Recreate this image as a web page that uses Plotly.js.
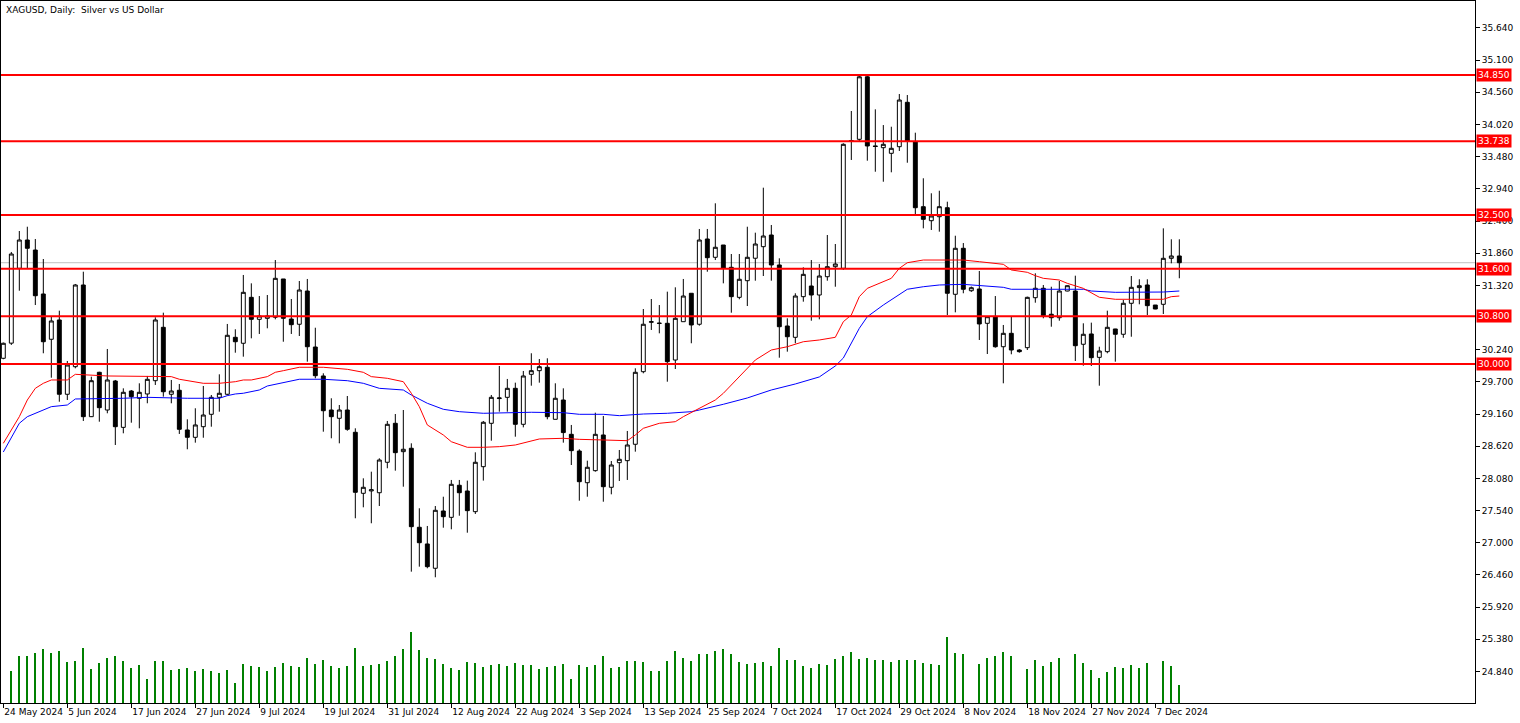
<!DOCTYPE html>
<html><head><meta charset="utf-8">
<script src="https://cdn.plot.ly/plotly-3.0.1.min.js"></script>
<style>html,body{margin:0;padding:0;background:#fff;}#chart{width:1520px;height:723px;}</style>
</head><body><div id="chart"></div>
<script>
const openP = [30.096,30.35,31.606,32.081,31.913,31.175,30.415,30.739,29.492,29.955,31.326,29.116,29.861,29.228,29.715,28.937,29.547,29.425,29.497,29.72,30.616,29.492,29.559,28.893,28.77,28.948,29.156,29.441,29.492,30.448,30.348,31.119,30.75,30.767,30.784,31.427,30.755,30.667,31.225,30.285,29.799,29.228,29.089,29.228,28.854,27.83,27.87,27.84,28.351,29.005,28.529,28.586,27.26,26.98,26.572,27.533,27.427,27.965,27.869,27.522,28.277,29.005,29.42,29.441,29.592,28.988,29.827,29.888,29.945,29.072,29.396,28.82,28.54,28.008,28.21,28.809,27.931,28.344,28.378,28.653,29.871,30.70,30.68,30.683,30.067,30.71,31.187,30.667,32.098,31.791,31.997,31.623,31.119,31.398,31.775,31.969,32.165,31.662,30.638,30.448,31.13,31.309,31.158,31.465,31.633,31.606,33.74,33.771,34.82,33.66,33.63,33.536,33.647,34.392,33.73,32.64,32.405,32.472,32.623,31.17,31.942,31.23,31.259,30.683,30.794,30.29,30.515,30.235,30.274,31.113,31.271,30.835,30.777,31.225,31.225,30.331,30.504,30.112,30.207,30.588,30.499,31.019,31.282,31.326,30.99,31.002,31.774,31.813];
const highP = [30.36,31.88,32.232,32.304,32.098,31.762,30.794,30.895,30.051,31.343,31.549,29.787,29.87,30.252,29.732,29.592,29.564,29.676,29.799,30.784,30.861,29.732,29.665,29.072,29.257,29.631,29.48,29.827,30.672,30.583,31.494,31.354,31.141,31.158,31.745,31.427,31.091,31.393,31.427,30.609,29.844,29.425,29.312,29.463,28.921,28.082,28.193,28.418,29.044,29.161,29.228,28.669,27.579,27.282,27.617,27.773,28.054,28.054,28.043,28.518,29.044,29.48,29.967,29.749,29.687,29.883,30.18,30.084,30.096,29.676,29.592,28.977,28.569,28.378,29.183,29.128,28.372,28.557,28.876,29.928,30.923,31.091,30.99,31.214,31.287,31.427,31.187,32.266,32.266,32.697,31.997,31.846,31.846,32.304,32.204,32.959,32.333,31.774,30.767,31.187,31.623,31.745,31.678,32.165,32.014,33.704,34.246,34.85,34.86,34.274,34.01,33.982,34.531,34.514,33.882,33.117,32.865,32.908,32.724,32.153,32.03,31.30,31.561,30.80,31.141,30.655,30.794,30.25,31.13,31.522,31.326,31.297,31.393,31.32,31.482,30.683,30.694,30.29,30.895,30.59,31.074,31.477,31.422,31.422,30.99,32.277,32.093,32.093];
const lowP = [30.08,30.32,31.23,31.606,30.99,30.18,29.77,29.367,29.396,29.928,29.044,29.11,29.032,29.173,28.641,28.837,29.015,28.921,29.341,29.648,29.452,29.341,28.826,28.569,28.68,28.763,28.948,29.2,29.475,30.19,30.123,30.431,30.504,30.599,30.75,30.374,30.504,30.47,30.039,29.76,28.864,28.753,28.669,28.88,27.411,27.595,27.327,27.617,28.25,28.21,27.941,26.515,26.599,26.572,26.421,27.253,27.226,27.454,27.169,27.483,28.043,28.713,29.2,29.2,28.78,28.937,29.636,29.687,29.072,29.072,28.68,28.305,27.706,27.773,28.193,27.689,27.813,28.037,28.054,28.529,29.844,30.571,30.515,29.703,29.916,30.71,30.348,30.643,31.549,31.745,31.354,30.861,31.086,30.973,31.398,31.477,31.398,30.106,30.207,30.348,31.046,30.727,30.75,31.398,31.297,31.58,33.424,33.74,33.412,33.227,33.059,33.217,33.575,33.378,32.512,32.277,32.249,32.221,30.822,30.867,31.187,31.21,30.403,30.168,30.274,29.676,30.163,30.19,30.235,31.029,30.767,30.626,30.727,31.22,30.051,29.972,29.967,29.636,30.18,30.039,30.44,30.458,31.002,30.822,30.92,30.839,31.69,31.439];
const closeP = [30.348,31.846,32.081,31.942,31.146,30.374,30.722,29.492,29.983,31.326,29.116,29.72,29.267,29.732,28.948,29.525,29.452,29.525,29.743,30.739,29.535,29.547,28.904,28.77,28.977,29.144,29.441,29.509,30.482,30.374,31.203,30.75,30.806,30.806,31.438,30.767,30.66,31.242,30.29,29.804,29.216,29.116,29.228,28.904,27.847,27.931,27.89,28.389,28.988,28.512,28.569,27.27,27.001,26.599,27.545,27.438,27.981,27.84,27.539,28.351,29.022,29.441,29.43,29.592,28.988,29.799,29.888,29.955,29.116,29.425,28.849,28.546,28.025,28.267,28.82,27.941,28.305,28.401,28.641,29.861,30.667,30.71,30.685,30.039,30.767,31.141,30.655,32.081,31.784,31.959,31.606,31.13,31.422,31.791,32.014,32.148,31.662,30.626,30.458,31.141,31.505,31.158,31.477,31.633,31.678,33.687,33.75,34.82,33.659,33.65,33.687,33.62,34.43,33.742,32.623,32.428,32.484,32.64,31.187,31.942,31.254,31.28,30.672,30.794,30.29,30.515,30.235,30.207,31.119,31.271,30.811,30.777,31.225,31.314,30.307,30.499,30.106,30.218,30.616,30.499,31.019,31.287,31.314,30.979,30.923,31.774,31.813,31.70];
const volume = [null,32.5,46.6,46.6,49.6,53.6,49.6,51.6,41.5,42.5,54.6,34.5,40.5,45.5,46.6,42.5,35.5,38.5,24.4,42.5,42.5,33.5,34.5,35.5,32.5,34.5,32.5,30.5,33.5,20.4,39.5,37.5,36.5,32.5,36.5,40.5,37.5,36.5,45.5,39.5,43.5,37.5,35.5,37.5,54.6,37.5,38.5,39.5,42.5,46.6,53.6,71,52.6,45.5,44.5,39.5,35.5,33.5,41.5,40.5,36.5,38.5,39.5,37.5,40.5,38.5,38.5,34.5,36.5,37.5,39.5,24.4,38.5,36.5,38.5,46.6,35.5,36.5,42.5,42.5,41.5,32.5,32.5,42.5,51.6,45.5,42.5,48.6,48.6,51.6,53.6,48.6,41.5,39.5,40.5,41.5,37.5,54.6,43.5,43.5,37.5,35.5,39.5,38.5,44.5,46.6,50.6,44.5,45.5,43.5,43.5,41.5,43.5,43.5,43.5,40.5,39.5,38.5,65.6,49.6,48.6,0,39.5,45.5,46.6,50.6,46.6,0,34.5,43.5,37.5,41.5,45.5,0,48.6,40.5,33.5,25.5,31.5,36.5,35.5,38.5,35.5,40.5,0,42.5,37.5,18.4];
const maRedIdx = [0,2,3,4,5,6,8,9,13,15,18,21,22,24,25,27,29,30,31,33,34,35,37,40,43,45,46,48,50,51,52,53,55,56,58,60,62,64,66,67,70,72,75,78,79,80,82,84,85,87,89,90,94,96,98,100,102,104,105,106,107,108,110,111,112,113,115,120,122,125,126,128,129,130,132,133,135,137,139,145,146,147];
const maRedVal = [28.669,29.116,29.396,29.592,29.676,29.732,29.732,29.827,29.799,29.799,29.799,29.788,29.744,29.703,29.676,29.676,29.703,29.732,29.732,29.788,29.861,29.888,29.945,29.945,29.911,29.861,29.788,29.76,29.703,29.509,29.284,28.977,28.809,28.696,28.602,28.602,28.613,28.641,28.708,28.742,28.753,28.736,28.725,28.713,28.809,28.921,29.005,29.032,29.116,29.257,29.396,29.508,30.067,30.235,30.29,30.374,30.403,30.448,30.71,30.822,31.13,31.27,31.38,31.438,31.606,31.70,31.745,31.745,31.717,31.673,31.578,31.539,31.482,31.438,31.41,31.354,31.27,31.12,31.086,31.086,31.13,31.141];
const maBlueIdx = [0,2,3,5,6,8,9,15,18,23,27,28,29,30,32,33,35,37,40,43,45,47,50,51,53,55,57,60,66,70,72,75,77,80,83,86,87,89,90,93,96,99,102,104,105,107,108,110,112,113,115,117,120,122,125,126,135,136,139,145,147];
const maBlueVal = [28.523,29.005,29.116,29.228,29.284,29.312,29.413,29.425,29.441,29.425,29.425,29.469,29.497,29.509,29.564,29.631,29.693,29.744,29.744,29.72,29.676,29.592,29.564,29.48,29.341,29.24,29.2,29.173,29.19,29.183,29.156,29.156,29.133,29.161,29.173,29.2,29.228,29.284,29.324,29.43,29.564,29.665,29.783,29.967,30.1,30.599,30.794,30.99,31.158,31.254,31.297,31.326,31.337,31.314,31.287,31.254,31.254,31.225,31.203,31.208,31.225];
const levels = [34.850,33.738,32.500,31.600,30.800,30.000];
const tickIdx = [0,8,16,24,32,40,48,56,64,72,80,88,96,104,112,120,128,136,144];
const tickLabels = ['24 May 2024','5 Jun 2024','17 Jun 2024','27 Jun 2024','9 Jul 2024','19 Jul 2024','31 Jul 2024','12 Aug 2024','22 Aug 2024','3 Sep 2024','13 Sep 2024','25 Sep 2024','7 Oct 2024','17 Oct 2024','29 Oct 2024','8 Nov 2024','18 Nov 2024','27 Nov 2024','7 Dec 2024'];
const priceTicks = [24.84,25.38,25.92,26.46,27.00,27.54,28.08,28.62,29.16,29.70,30.24,31.32,31.86,32.40,32.94,33.48,34.02,34.56,35.10,35.64];
const symbolTitle = 'XAGUSD, Daily:  Silver vs US Dollar';

const idx = closeP.map((_, i) => i);
const FONT = 'Tahoma, "DejaVu Sans", sans-serif';

const traces = [
  {type:'bar', x: idx, y: volume, yaxis:'y2', marker:{color:'#008000', line:{width:0}}, width:0.25, hoverinfo:'skip', showlegend:false},
  {type:'candlestick', x: idx, open: openP, high: highP, low: lowP, close: closeP,
   increasing:{line:{color:'#000000', width:1}, fillcolor:'#ffffff'},
   decreasing:{line:{color:'#000000', width:1}, fillcolor:'#000000'},
   whiskerwidth:0, showlegend:false, hoverinfo:'none'},
  {type:'scatter', mode:'lines', x: maBlueIdx, y: maBlueVal, line:{color:'#0000ff', width:1}, showlegend:false, hoverinfo:'skip'},
  {type:'scatter', mode:'lines', x: maRedIdx, y: maRedVal, line:{color:'#ff0000', width:1}, showlegend:false, hoverinfo:'skip'}
];

const shapes = [{type:'line', xref:'paper', x0:0, x1:1, yref:'y', y0:closeP[closeP.length-1], y1:closeP[closeP.length-1], line:{color:'#c0c0c0', width:1}, layer:'below'}];
levels.forEach(v => shapes.push({type:'line', xref:'paper', x0:0, x1:1, yref:'y', y0:v, y1:v, line:{color:'#ff0000', width:2}}));

const annotations = [{xref:'paper', yref:'paper', x:0, y:1, xanchor:'left', yanchor:'top', xshift:3, yshift:-2, text:symbolTitle, showarrow:false, font:{family:FONT, size:9, color:'#000'}}];
levels.forEach(v => annotations.push({xref:'paper', yref:'y', x:1, y:v, xanchor:'left', yanchor:'middle', xshift:1, text:v.toFixed(3), showarrow:false, bgcolor:'#ff0000', borderpad:1, font:{family:FONT, size:9, color:'#ffffff'}}));

const layout = {
  width:1520, height:723,
  margin:{l:1, r:45, t:1, b:20, pad:0},
  paper_bgcolor:'#ffffff', plot_bgcolor:'#ffffff',
  showlegend:false, boxgap:0.3, bargap:0,
  font:{family:FONT, size:9, color:'#000'},
  xaxis:{range:[-0.29, 183.96], rangeslider:{visible:false}, tickmode:'array', tickvals:tickIdx, ticktext:tickLabels, tickangle:0,
    ticks:'outside', ticklen:4, tickcolor:'#000', ticklabelposition:'outside right', showline:true, linecolor:'#000', linewidth:1, mirror:true,
    showgrid:false, zeroline:false, tickfont:{family:FONT, size:9, color:'#000'}, fixedrange:true, automargin:false},
  yaxis:{range:[24.311, 36.092], side:'right', tickmode:'array', tickvals:priceTicks, ticktext:priceTicks.map(v => v.toFixed(3)),
    ticks:'outside', ticklen:4, tickcolor:'#000', showline:true, linecolor:'#000', linewidth:1, mirror:true,
    showgrid:false, zeroline:false, tickfont:{family:FONT, size:9, color:'#000'}, fixedrange:true, automargin:false},
  yaxis2:{overlaying:'y', range:[0, 702], visible:false, fixedrange:true},
  shapes: shapes, annotations: annotations
};

Plotly.newPlot('chart', traces, layout, {displayModeBar:false, staticPlot:true});
</script>
</body></html>
